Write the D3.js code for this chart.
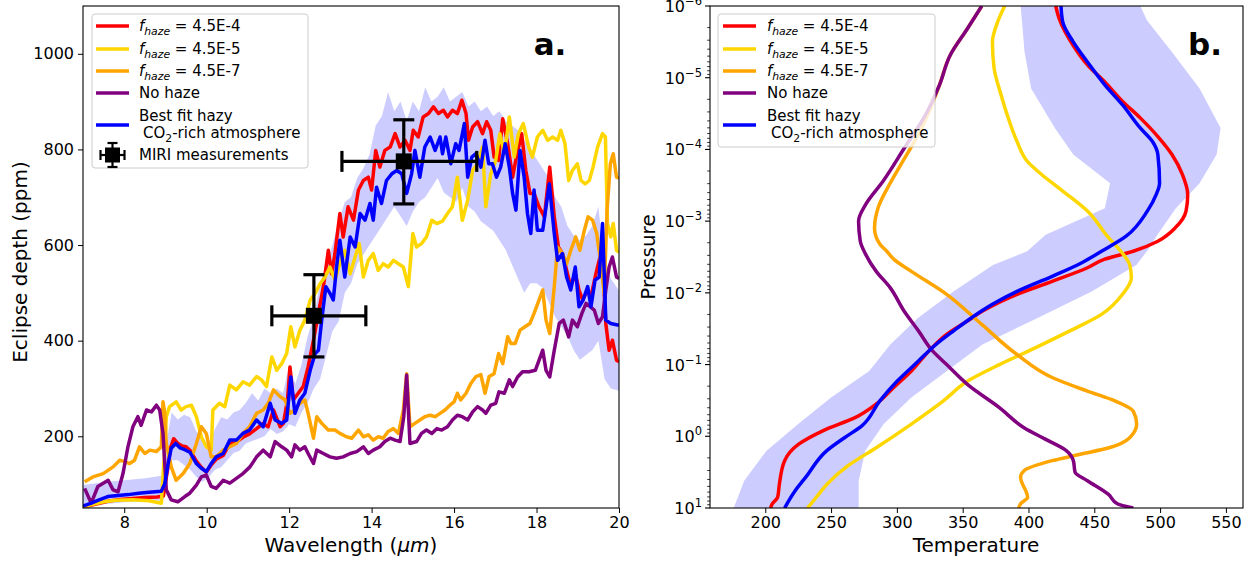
<!DOCTYPE html>
<html>
<head>
<meta charset="utf-8">
<script src="https://cdn.jsdelivr.net/npm/d3@7"></script>
<style>
body { margin: 0; background: #fff; }
svg text { font-family: "DejaVu Sans", sans-serif; fill: #000; }
</style>
</head>
<body>
<svg id="fig" width="1248" height="562"></svg>
<script>
// ---- panel a: eclipse spectra (wavelength um, depth ppm)
var specRed = [[7.0,52],[7.3,58],[7.6,64],[7.9,68],[8.2,70],[8.5,72],[8.8,73],[8.95,75],[9.05,130],[9.12,175],[9.2,195],[9.3,185],[9.4,180],[9.5,178],[9.6,170],[9.75,148],[9.87,135],[9.99,125],[10.11,140],[10.23,152],[10.4,160],[10.56,185],[10.72,188],[10.88,198],[11.04,205],[11.21,216],[11.37,227],[11.49,220],[11.62,255],[11.78,220],[11.86,227],[11.96,276],[12.02,345],[12.1,276],[12.22,290],[12.34,304],[12.46,345],[12.59,401],[12.71,457],[12.83,513],[12.95,589],[13.03,540],[13.11,582],[13.23,666],[13.31,617],[13.43,680],[13.56,652],[13.68,715],[13.8,735],[13.92,742],[14.0,715],[14.1,798],[14.2,763],[14.32,798],[14.45,805],[14.57,833],[14.69,805],[14.81,819],[14.93,798],[15.01,840],[15.13,826],[15.25,868],[15.38,875],[15.5,889],[15.62,875],[15.74,882],[15.84,868],[15.96,882],[16.08,875],[16.19,903],[16.29,875],[16.35,819],[16.45,847],[16.57,858],[16.69,833],[16.79,858],[16.89,840],[16.97,784],[17.08,777],[17.18,864],[17.3,812],[17.42,742],[17.51,784],[17.64,833],[17.74,756],[17.84,708],[17.94,708],[18.06,680],[18.19,659],[18.32,763],[18.43,659],[18.53,596],[18.63,582],[18.75,540],[18.83,513],[18.94,540],[19.03,506],[19.12,485],[19.24,506],[19.32,492],[19.44,540],[19.54,575],[19.6,568],[19.68,436],[19.76,380],[19.84,401],[19.94,359],[20.0,356]];

var specYellow = [[7.0,53],[7.5,63],[7.8,66],[8.2,67],[8.6,65],[8.9,60],[8.98,171],[9.02,241],[9.1,262],[9.26,272],[9.38,255],[9.5,262],[9.63,265],[9.75,241],[9.87,199],[9.99,178],[10.11,171],[10.15,255],[10.31,269],[10.44,262],[10.56,307],[10.72,297],[10.88,314],[11.04,307],[11.21,325],[11.33,318],[11.45,304],[11.58,366],[11.7,338],[11.82,352],[11.94,373],[12.04,429],[12.14,387],[12.26,422],[12.38,443],[12.51,485],[12.63,499],[12.75,519],[12.87,533],[12.99,554],[13.11,527],[13.23,561],[13.35,589],[13.48,540],[13.6,575],[13.7,603],[13.8,533],[13.92,568],[14.04,582],[14.16,547],[14.28,561],[14.4,554],[14.53,568],[14.65,561],[14.77,554],[14.89,513],[15.0,624],[15.09,596],[15.21,603],[15.33,617],[15.46,652],[15.58,645],[15.72,650],[15.84,666],[15.96,680],[16.08,742],[16.2,652],[16.33,694],[16.45,756],[16.57,770],[16.69,805],[16.77,680],[16.89,749],[17.01,777],[17.11,833],[17.22,791],[17.34,868],[17.46,784],[17.56,833],[17.68,854],[17.81,805],[17.9,784],[18.02,826],[18.15,840],[18.27,819],[18.39,826],[18.51,819],[18.59,840],[18.69,812],[18.78,735],[18.87,756],[18.99,770],[19.08,735],[19.18,728],[19.28,735],[19.37,763],[19.48,805],[19.6,833],[19.67,826],[19.72,645],[19.8,617],[19.86,645],[19.94,589],[20.0,585]];

var specOrange = [[7.04,105],[7.24,115],[7.49,122],[7.73,136],[7.89,150],[8.01,147],[8.13,143],[8.25,150],[8.37,178],[8.5,164],[8.62,171],[8.78,168],[8.9,178],[8.94,272],[8.98,250],[9.02,185],[9.14,136],[9.26,108],[9.43,122],[9.59,143],[9.75,185],[9.87,220],[9.99,206],[10.11,157],[10.23,157],[10.4,171],[10.56,178],[10.72,185],[10.88,206],[11.04,220],[11.21,248],[11.37,255],[11.49,269],[11.62,297],[11.78,283],[11.9,276],[12.02,248],[12.14,255],[12.26,269],[12.38,276],[12.46,248],[12.59,196],[12.67,241],[12.79,227],[12.95,213],[13.11,213],[13.23,206],[13.39,199],[13.52,196],[13.68,213],[13.8,199],[13.92,203],[14.04,192],[14.16,199],[14.28,196],[14.4,210],[14.53,216],[14.65,206],[14.77,255],[14.85,331],[14.93,220],[15.05,227],[15.17,234],[15.29,241],[15.42,244],[15.54,241],[15.66,248],[15.78,255],[15.9,265],[16.0,272],[16.08,290],[16.16,276],[16.29,290],[16.41,311],[16.53,325],[16.65,329],[16.75,290],[16.85,325],[16.97,331],[17.08,373],[17.18,352],[17.3,408],[17.38,394],[17.48,394],[17.6,422],[17.72,429],[17.84,436],[17.94,457],[18.06,485],[18.15,506],[18.23,443],[18.32,415],[18.43,513],[18.51,596],[18.63,582],[18.73,561],[18.83,589],[18.95,617],[19.05,589],[19.16,631],[19.25,659],[19.36,652],[19.46,624],[19.56,561],[19.64,499],[19.71,673],[19.79,770],[19.86,791],[19.94,742],[20.0,740]];

var specPurple = [[7.04,91],[7.2,60],[7.36,95],[7.61,108],[7.73,88],[7.85,84],[7.97,122],[8.09,178],[8.21,220],[8.33,241],[8.41,223],[8.54,255],[8.66,251],[8.78,265],[8.86,255],[8.94,206],[9.02,88],[9.14,67],[9.3,63],[9.47,74],[9.59,81],[9.75,98],[9.87,115],[9.99,119],[10.11,95],[10.23,91],[10.4,108],[10.56,102],[10.72,112],[10.88,122],[11.05,136],[11.21,157],[11.37,171],[11.54,157],[11.66,189],[11.82,178],[11.94,171],[12.06,157],[12.14,182],[12.26,171],[12.38,178],[12.46,164],[12.59,143],[12.67,171],[12.83,164],[12.99,157],[13.15,154],[13.31,157],[13.48,164],[13.64,168],[13.8,178],[13.92,164],[14.04,171],[14.2,178],[14.32,189],[14.45,196],[14.57,192],[14.69,189],[14.78,241],[14.85,328],[14.93,185],[15.09,189],[15.21,206],[15.33,213],[15.46,206],[15.58,216],[15.7,213],[15.84,220],[15.96,234],[16.08,244],[16.2,241],[16.33,234],[16.45,251],[16.57,262],[16.69,255],[16.77,248],[16.89,265],[17.01,269],[17.09,293],[17.22,290],[17.34,318],[17.42,304],[17.54,324],[17.66,335],[17.82,335],[17.97,338],[18.06,359],[18.15,380],[18.23,338],[18.32,324],[18.43,380],[18.55,436],[18.65,443],[18.78,408],[18.87,443],[18.99,429],[19.1,457],[19.2,478],[19.3,471],[19.4,464],[19.5,436],[19.6,450],[19.68,506],[19.76,554],[19.84,575],[19.94,533],[20.0,530]];

var specBlue = [[7.0,54],[7.2,60],[7.36,66],[7.6,74],[7.85,76],[8.1,78],[8.35,81],[8.6,83],[8.9,85],[8.98,100],[9.06,140],[9.14,175],[9.25,185],[9.35,176],[9.47,172],[9.6,166],[9.75,143],[9.87,133],[9.99,126],[10.11,143],[10.23,157],[10.4,164],[10.56,192],[10.72,192],[10.88,206],[11.04,213],[11.21,234],[11.37,220],[11.54,269],[11.66,234],[11.82,227],[11.94,234],[12.04,324],[12.14,248],[12.26,276],[12.38,290],[12.51,338],[12.63,373],[12.71,380],[12.79,443],[12.89,513],[12.99,499],[13.07,485],[13.15,554],[13.23,610],[13.35,533],[13.48,617],[13.6,596],[13.72,666],[13.84,652],[13.96,687],[14.04,652],[14.12,721],[14.24,687],[14.36,735],[14.49,749],[14.61,756],[14.73,749],[14.85,708],[14.97,749],[15.05,798],[15.17,742],[15.29,805],[15.42,826],[15.54,798],[15.66,826],[15.72,791],[15.8,826],[15.92,770],[16.04,812],[16.12,798],[16.25,854],[16.33,742],[16.43,784],[16.53,791],[16.65,763],[16.75,819],[16.84,770],[16.93,770],[17.03,742],[17.13,763],[17.24,812],[17.34,763],[17.42,708],[17.5,673],[17.6,798],[17.7,742],[17.78,666],[17.86,624],[17.94,715],[18.02,631],[18.15,631],[18.31,728],[18.43,624],[18.51,568],[18.63,582],[18.73,533],[18.83,506],[18.94,554],[19.03,471],[19.13,485],[19.24,513],[19.32,471],[19.42,527],[19.52,533],[19.6,645],[19.68,443],[19.8,436],[20.0,432]];

var bandWave = [7.0,7.5,8.0,8.5,8.95,9.05,9.15,9.3,9.45,9.6,9.75,9.9,10.05,10.2,10.35,10.5,10.65,10.8,10.95,11.1,11.25,11.4,11.55,11.7,11.85,12.0,12.15,12.3,12.45,12.6,12.75,12.9,13.05,13.2,13.35,13.5,13.65,13.8,13.95,14.1,14.25,14.4,14.55,14.7,14.85,15.0,15.15,15.3,15.45,15.6,15.75,15.9,16.05,16.2,16.35,16.5,16.65,16.8,16.95,17.1,17.25,17.4,17.55,17.7,17.85,18.0,18.15,18.3,18.45,18.6,18.75,18.9,19.05,19.2,19.35,19.5,19.65,19.8,20.0];
var bandLow  = [52,58,62,64,66,110,150,150,140,130,115,105,115,130,135,150,165,170,185,190,195,200,215,205,210,225,220,250,270,300,320,370,420,440,500,520,560,580,600,620,640,660,680,660,640,670,690,700,720,740,710,700,690,720,680,670,650,640,630,610,590,560,530,500,520,520,510,480,450,430,410,380,360,370,380,400,320,300,295];
var bandHigh = [98,104,108,112,118,200,250,235,245,240,210,195,180,215,240,235,250,255,270,290,275,300,290,300,290,350,310,350,410,450,520,560,600,650,690,700,740,760,790,850,870,920,880,900,860,900,880,930,900,910,930,900,910,920,890,900,880,890,870,880,860,850,840,820,800,780,760,740,700,680,640,620,610,620,640,680,560,530,505];

var miriWave = [12.6, 14.78];
var miriDepth = [452, 775];
var miriWaveLo = [11.58, 13.28];
var miriWaveHi = [13.86, 16.55];
var miriDepthLo = [366, 686];
var miriDepthHi = [538, 862];

var waveTicks = [8, 10, 12, 14, 16, 18, 20];
var depthTicks = [200, 400, 600, 800, 1000];

// ---- panel b: temperature profiles [T (K), log10 pressure]
var tpRed = [[420.7,-6],[423.4,-5.82],[434,-5.45],[444.8,-5.18],[458,-4.94],[471.5,-4.67],[484.9,-4.44],[498.3,-4.18],[509,-3.93],[517,-3.65],[521,-3.37],[519.7,-3.14],[511.7,-2.91],[498.3,-2.72],[479.6,-2.58],[458,-2.47],[444.8,-2.35],[418,-2.16],[391.3,-1.98],[364.5,-1.74],[353.8,-1.61],[337.8,-1.42],[324.4,-1.19],[311,-0.91],[297.6,-0.68],[284.3,-0.45],[268.2,-0.26],[244.1,-0.08],[225.4,0.11],[214.7,0.34],[210.7,0.67],[209.4,0.85],[205.4,0.94],[204,1.0]];
var tpYellow = [[381.9,-6],[376.6,-5.78],[372.6,-5.5],[373.9,-5.13],[379.2,-4.76],[384.6,-4.44],[391.3,-4.11],[399.3,-3.83],[410,-3.65],[426,-3.42],[444.8,-3.14],[460.8,-2.77],[470.2,-2.58],[476.9,-2.39],[478.2,-2.21],[471.5,-1.98],[455.5,-1.7],[431.4,-1.47],[404.7,-1.23],[377.9,-1.0],[353.8,-0.77],[335.1,-0.49],[311,-0.17],[284.3,0.16],[262.9,0.41],[246.8,0.67],[238.8,0.85],[232.1,1.0]];
var tpOrange = [[364.5,-6],[353.8,-5.69],[340.4,-5.31],[332.4,-4.9],[325,-4.55],[316,-4.2],[305,-3.85],[294,-3.5],[286,-3.2],[283,-2.9],[287,-2.68],[292.3,-2.58],[297.6,-2.47],[311,-2.3],[337.8,-1.98],[364.5,-1.56],[391.3,-1.14],[418,-0.82],[444.8,-0.63],[466.1,-0.49],[479.6,-0.35],[482.2,-0.17],[476.9,0.02],[461.3,0.16],[439.4,0.25],[418,0.34],[396.6,0.48],[394,0.57],[399.3,0.85],[394,0.94],[392.6,1.0]];
var tpPurple = [[364.5,-6],[353.8,-5.69],[340.4,-5.31],[332.4,-4.9],[321.7,-4.48],[305.7,-4.02],[289.6,-3.56],[276.2,-3.23],[270.9,-3.0],[272.2,-2.72],[276.2,-2.54],[284.3,-2.3],[295,-2.07],[305.7,-1.74],[316.4,-1.47],[327.1,-1.19],[337.8,-1.0],[353.8,-0.72],[377.9,-0.4],[396.6,-0.12],[412.7,0.04],[428.7,0.2],[434.1,0.34],[435.4,0.5],[444.8,0.62],[460.8,0.81],[467.5,0.94],[479.6,1.0]];
var tpBlue = [[424.7,-6],[426,-5.78],[434,-5.5],[444.8,-5.22],[458,-4.9],[471.5,-4.62],[484.9,-4.3],[494.2,-4.11],[498.3,-3.93],[499.6,-3.53],[497,-3.37],[490.3,-3.14],[474.2,-2.79],[455.5,-2.58],[439.4,-2.41],[418,-2.23],[391.3,-2.02],[372.6,-1.84],[356.5,-1.65],[343.1,-1.47],[329.7,-1.28],[316.4,-1.05],[300.3,-0.77],[286.9,-0.49],[273.6,-0.15],[260.2,0.02],[246.8,0.2],[230.8,0.57],[222.7,0.76],[214.7,1.0]];

var tpBandLogP = [-6,-5.8,-5.36,-4.85,-4.3,-3.93,-3.53,-3.18,-2.81,-2.58,-2.39,-2.02,-1.65,-1.28,-0.91,-0.54,-0.17,0.2,0.62,1.0];
var tpBandLow  = [394,395,397,402,420,434,462,458,413,399,373,343,316,295,279,250,225,201,184,176];
var tpBandHigh = [485,490,509,530,546,543,530,512,498,490,482,448,407,365,338,311,290,276,271,271];

var tempTicks = [200, 250, 300, 350, 400, 450, 500, 550];
var presExp = [-6, -5, -4, -3, -2, -1, 0, 1];

var legendText = ["4.5E-4", "4.5E-5", "4.5E-7", "No haze", "Best fit hazy"];
var seriesCol = ["#ff0000", "#ffd700", "#ffa500", "#800080", "#0000ff"];

var TICK_FONT = "16px";
var LBL_FONT = "20px";
var LEG_FONT = "15px";
var LINE_W = 3.5;

var svg = d3.select("#fig");

var xL = d3.scaleLinear().domain([7, 20]).range([83, 619]);
var yL = d3.scaleLinear().domain([50, 1100]).range([508, 6]);
var xR = d3.scaleLinear().domain([158, 563]).range([710, 1243]);
var yR = d3.scaleLog().domain([1e-6, 10]).range([6, 508]);

function add_clip(id, x0, x1) {
    svg.append("clipPath").attr("id", id)
       .append("rect")
       .attr("x", x0).attr("y", 6)
       .attr("width", x1 - x0).attr("height", 502);
}

function chart_left() {
    add_clip("clipL", 83, 619);
    var g = svg.append("g").attr("clip-path", "url(#clipL)");

    var bandData = bandWave.map(function(w, i) { return [w, bandLow[i], bandHigh[i]]; });
    g.append("path")
     .datum(bandData)
     .attr("d", d3.area().x(d => xL(d[0])).y0(d => yL(d[1])).y1(d => yL(d[2])))
     .style("fill", "#0000ff")
     .style("fill-opacity", 0.2);

    var spectra = [specRed, specYellow, specOrange, specPurple, specBlue];
    var line = d3.line().x(d => xL(d[0])).y(d => yL(d[1]));

    spectra.forEach(function(s, i) {
        g.append("path")
         .datum(s)
         .attr("d", line)
         .style("fill", "none")
         .style("stroke", seriesCol[i])
         .style("stroke-width", LINE_W)
         .style("stroke-linejoin", "round");
    });

    // MIRI points with error bars
    var eb = svg.append("g").style("stroke", "#000").style("stroke-width", 3.2);
    for (var i = 0; i < miriWave.length; i++) {
        var cx = xL(miriWave[i]), cy = yL(miriDepth[i]);
        var xa = xL(miriWaveLo[i]), xb = xL(miriWaveHi[i]);
        var ya = yL(miriDepthLo[i]), yb = yL(miriDepthHi[i]);
        eb.append("line").attr("x1", xa).attr("x2", xb).attr("y1", cy).attr("y2", cy);
        eb.append("line").attr("x1", cx).attr("x2", cx).attr("y1", ya).attr("y2", yb);
        eb.append("line").attr("x1", xa).attr("x2", xa).attr("y1", cy - 10.5).attr("y2", cy + 10.5);
        eb.append("line").attr("x1", xb).attr("x2", xb).attr("y1", cy - 10.5).attr("y2", cy + 10.5);
        eb.append("line").attr("x1", cx - 10.5).attr("x2", cx + 10.5).attr("y1", ya).attr("y2", ya);
        eb.append("line").attr("x1", cx - 10.5).attr("x2", cx + 10.5).attr("y1", yb).attr("y2", yb);
        svg.append("rect")
           .attr("x", cx - 8).attr("y", cy - 8)
           .attr("width", 16).attr("height", 16)
           .style("fill", "#000");
    }

    var xAxis = d3.axisBottom(xL).tickValues(waveTicks).tickSize(5).tickPadding(4);
    var yAxis = d3.axisLeft(yL).tickValues(depthTicks).tickFormat(d3.format("d")).tickSize(5).tickPadding(4);

    svg.append("g").attr("transform", "translate(0,508)").call(xAxis)
       .call(s => s.select(".domain").remove())
       .selectAll("text").style("font-size", TICK_FONT).style("font-family", "DejaVu Sans");
    svg.append("g").attr("transform", "translate(83,0)").call(yAxis)
       .call(s => s.select(".domain").remove())
       .selectAll("text").style("font-size", TICK_FONT).style("font-family", "DejaVu Sans");

    svg.append("rect")
       .attr("x", 83).attr("y", 6).attr("width", 536).attr("height", 502)
       .style("fill", "none").style("stroke", "#000").style("stroke-width", 1.1);

    svg.append("text")
       .attr("x", 351).attr("y", 552)
       .attr("text-anchor", "middle")
       .style("font-size", LBL_FONT)
       .html('Wavelength (<tspan font-style="italic">μm</tspan>)');

    svg.append("text")
       .attr("transform", "translate(27,262) rotate(-90)")
       .attr("text-anchor", "middle")
       .style("font-size", LBL_FONT)
       .text("Eclipse depth (ppm)");

    svg.append("text")
       .attr("x", 550).attr("y", 55)
       .attr("text-anchor", "middle")
       .style("font-size", "31px").style("font-weight", "bold")
       .text("a.");

    add_legend(92, 216, 154, 96, 139, true);
}

function chart_right() {
    add_clip("clipR", 710, 1243);
    var g = svg.append("g").attr("clip-path", "url(#clipR)");

    var bandData = tpBandLogP.map(function(p, i) { return [p, tpBandLow[i], tpBandHigh[i]]; });
    g.append("path")
     .datum(bandData)
     .attr("d", d3.area().y(d => yR(Math.pow(10, d[0]))).x0(d => xR(d[1])).x1(d => xR(d[2])))
     .style("fill", "#0000ff")
     .style("fill-opacity", 0.2);

    var profiles = [tpRed, tpYellow, tpOrange, tpPurple, tpBlue];
    var line = d3.line().x(d => xR(d[0])).y(d => yR(Math.pow(10, d[1]))).curve(d3.curveMonotoneY);

    profiles.forEach(function(s, i) {
        g.append("path")
         .datum(s)
         .attr("d", line)
         .style("fill", "none")
         .style("stroke", seriesCol[i])
         .style("stroke-width", LINE_W)
         .style("stroke-linejoin", "round");
    });

    var xAxis = d3.axisBottom(xR).tickValues(tempTicks).tickSize(5).tickPadding(4);
    svg.append("g").attr("transform", "translate(0,508)").call(xAxis)
       .call(s => s.select(".domain").remove())
       .selectAll("text").style("font-size", TICK_FONT).style("font-family", "DejaVu Sans");

    // log pressure ticks
    var minor = yR.ticks().filter(v => Math.abs(Math.log10(v) - Math.round(Math.log10(v))) > 1e-6);
    svg.append("g").selectAll("line.minor")
       .data(minor).enter().append("line")
       .attr("x1", 707.2).attr("x2", 710)
       .attr("y1", d => yR(d)).attr("y2", d => yR(d))
       .style("stroke", "#000").style("stroke-width", 0.8);

    var yg = svg.append("g");
    yg.selectAll("line.major")
      .data(presExp).enter().append("line")
      .attr("x1", 705).attr("x2", 710)
      .attr("y1", d => yR(Math.pow(10, d))).attr("y2", d => yR(Math.pow(10, d)))
      .style("stroke", "#000").style("stroke-width", 1.1);

    yg.selectAll("text")
      .data(presExp).enter().append("text")
      .attr("x", 702)
      .attr("y", d => yR(Math.pow(10, d)) + 6)
      .attr("text-anchor", "end")
      .style("font-size", TICK_FONT)
      .html(d => '10<tspan dy="-7" font-size="11.5px">' + (d < 0 ? "\u2212" + (-d) : d) + '</tspan>');

    svg.append("rect")
       .attr("x", 710).attr("y", 6).attr("width", 533).attr("height", 502)
       .style("fill", "none").style("stroke", "#000").style("stroke-width", 1.1);

    svg.append("text")
       .attr("x", 976).attr("y", 552)
       .attr("text-anchor", "middle")
       .style("font-size", LBL_FONT)
       .text("Temperature");

    svg.append("text")
       .attr("transform", "translate(655,257) rotate(-90)")
       .attr("text-anchor", "middle")
       .style("font-size", LBL_FONT)
       .text("Pressure");

    svg.append("text")
       .attr("x", 1205).attr("y", 55)
       .attr("text-anchor", "middle")
       .style("font-size", "31px").style("font-weight", "bold")
       .text("b.");

    add_legend(718, 217, 133, 723, 767, false);
}

function add_legend(x, w, h, lineX, textX, withMiri) {
    var lg = svg.append("g");
    lg.append("rect")
      .attr("x", x).attr("y", 14).attr("width", w).attr("height", h)
      .attr("rx", 3)
      .style("fill", "#fff").style("fill-opacity", 0.8)
      .style("stroke", "#cccccc").style("stroke-width", 1);

    var rowY = [26, 49, 71, 93, 125];
    legendText.forEach(function(t, i) {
        lg.append("line")
          .attr("x1", lineX).attr("x2", lineX + 33)
          .attr("y1", rowY[i]).attr("y2", rowY[i])
          .style("stroke", seriesCol[i]).style("stroke-width", LINE_W);

        if (i < 3) {
            lg.append("text")
              .attr("x", textX).attr("y", rowY[i] + 5)
              .style("font-size", LEG_FONT)
              .html('<tspan font-style="italic">f</tspan><tspan font-style="italic" font-size="10.8px" dy="4">haze</tspan><tspan dy="-4"> = ' + t + '</tspan>');
        }
        else if (i == 3) {
            lg.append("text")
              .attr("x", textX).attr("y", rowY[i] + 5)
              .style("font-size", LEG_FONT)
              .text(t);
        }
        else {
            lg.append("text")
              .attr("x", textX).attr("y", 121)
              .style("font-size", LEG_FONT)
              .text(t);
            lg.append("text")
              .attr("x", textX + 4).attr("y", 138)
              .style("font-size", LEG_FONT)
              .html('CO<tspan font-size="10.8px" dy="4">2</tspan><tspan dy="-4">-rich atmosphere</tspan>');
        }
    });

    if (withMiri) {
        var mx = lineX + 16.5, my = 155;
        var mg = lg.append("g").style("stroke", "#000").style("stroke-width", 2.2);
        mg.append("line").attr("x1", mx - 12).attr("x2", mx + 12).attr("y1", my).attr("y2", my);
        mg.append("line").attr("x1", mx).attr("x2", mx).attr("y1", my - 12).attr("y2", my + 12);
        mg.append("line").attr("x1", mx - 12).attr("x2", mx - 12).attr("y1", my - 5).attr("y2", my + 5);
        mg.append("line").attr("x1", mx + 12).attr("x2", mx + 12).attr("y1", my - 5).attr("y2", my + 5);
        mg.append("line").attr("x1", mx - 5).attr("x2", mx + 5).attr("y1", my - 12).attr("y2", my - 12);
        mg.append("line").attr("x1", mx - 5).attr("x2", mx + 5).attr("y1", my + 12).attr("y2", my + 12);
        lg.append("rect")
          .attr("x", mx - 7.5).attr("y", my - 7.5).attr("width", 15).attr("height", 15)
          .style("fill", "#000");
        lg.append("text")
          .attr("x", textX).attr("y", my + 5)
          .style("font-size", LEG_FONT)
          .text("MIRI measurements");
    }
}

chart_left();
chart_right();
</script>
</body>
</html>
